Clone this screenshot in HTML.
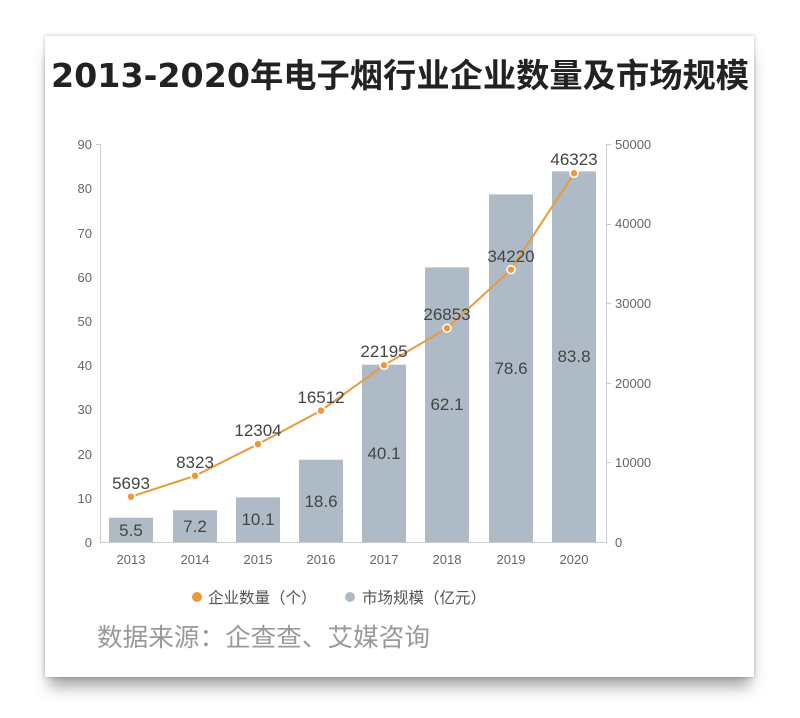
<!DOCTYPE html>
<html><head><meta charset="utf-8"><style>
body{margin:0;width:800px;height:718px;background:#fff;overflow:hidden;font-family:"Liberation Sans","Noto Sans CJK SC",sans-serif;}
.card{position:absolute;left:45px;top:36px;width:709px;height:641px;background:#fff;box-shadow:0 14px 14px -4px rgba(0,0,0,0.35),0 0 4px rgba(0,0,0,0.25);}
</style></head><body>
<div class="card"></div>
<svg width="800" height="718" style="position:absolute;left:0;top:0" font-family="Liberation Sans, Noto Sans CJK SC, sans-serif">
<text x="51" y="87" textLength="698" lengthAdjust="spacingAndGlyphs" font-size="33" font-weight="bold" fill="#222" font-family="DejaVu Sans, Noto Sans CJK SC, sans-serif">2013-2020年电子烟行业企业数量及市场规模</text>
<g stroke="#ccc" stroke-width="1">
<line x1="100.5" y1="144" x2="100.5" y2="542"/><line x1="606.5" y1="144" x2="606.5" y2="542"/>
<line x1="100" y1="542.5" x2="607" y2="542.5"/>
</g>
<g font-size="13" fill="#666" text-anchor="end">
<text x="92" y="547">0</text><text x="92" y="503">10</text><text x="92" y="459">20</text><text x="92" y="414">30</text><text x="92" y="370">40</text><text x="92" y="326">50</text><text x="92" y="282">60</text><text x="92" y="238">70</text><text x="92" y="193">80</text><text x="92" y="149">90</text>
</g>
<g font-size="13" fill="#666">
<text x="615" y="547">0</text><text x="615" y="467">10000</text><text x="615" y="388">20000</text><text x="615" y="308">30000</text><text x="615" y="228">40000</text><text x="615" y="149">50000</text>
</g>
<g stroke="#ccc"><line x1="96" y1="144.5" x2="100" y2="144.5"/><line x1="607" y1="144.5" x2="611" y2="144.5"/><line x1="607" y1="224.5" x2="611" y2="224.5"/><line x1="607" y1="303.5" x2="611" y2="303.5"/><line x1="607" y1="383.5" x2="611" y2="383.5"/><line x1="607" y1="462.5" x2="611" y2="462.5"/></g>
<g fill="#aebbc6">
<rect x="109" y="517.7" width="44" height="24.3"/>
<rect x="173" y="510.2" width="44" height="31.8"/>
<rect x="236" y="497.4" width="44" height="44.6"/>
<rect x="299" y="459.7" width="44" height="82.3"/>
<rect x="362" y="364.7" width="44" height="177.3"/>
<rect x="425" y="267.4" width="44" height="274.6"/>
<rect x="489" y="194.4" width="44" height="347.6"/>
<rect x="552" y="171.4" width="44" height="370.6"/>
</g>
<g font-size="17" fill="#444" text-anchor="middle">
<text x="131" y="536">5.5</text><text x="195" y="532">7.2</text><text x="258" y="525">10.1</text><text x="321" y="507">18.6</text><text x="384" y="459">40.1</text><text x="447" y="410">62.1</text><text x="511" y="374">78.6</text><text x="574" y="362">83.8</text>
</g>
<g font-size="13" fill="#666" text-anchor="middle">
<text x="131" y="564">2013</text><text x="195" y="564">2014</text><text x="258" y="564">2015</text><text x="321" y="564">2016</text><text x="384" y="564">2017</text><text x="447" y="564">2018</text><text x="511" y="564">2019</text><text x="574" y="564">2020</text>
</g>
<polyline fill="none" stroke="#e89a3c" stroke-width="2" points="131,496.7 195,475.8 258,444.1 321,410.6 384,365.3 447,328.2 511,269.6 574,173.3"/>
<g fill="#e89a3c" stroke="#fff" stroke-width="1.5">
<circle cx="131" cy="496.7" r="4"/><circle cx="195" cy="475.8" r="4"/><circle cx="258" cy="444.1" r="4"/><circle cx="321" cy="410.6" r="4"/><circle cx="384" cy="365.3" r="4"/><circle cx="447" cy="328.2" r="4"/><circle cx="511" cy="269.6" r="4"/><circle cx="574" cy="173.3" r="4"/>
</g>
<g font-size="17" fill="#444" text-anchor="middle">
<text x="131" y="489">5693</text><text x="195" y="468">8323</text><text x="258" y="436">12304</text><text x="321" y="403">16512</text><text x="384" y="357">22195</text><text x="447" y="320">26853</text><text x="511" y="262">34220</text><text x="574" y="165">46323</text>
</g>
<circle cx="197" cy="597" r="5" fill="#e89a3c"/>
<text x="208" y="603" font-size="15.5" fill="#555" font-family="Noto Sans CJK SC, sans-serif">企业数量（个）</text>
<circle cx="350" cy="597" r="5" fill="#aebbc6"/>
<text x="362" y="603" font-size="15.5" fill="#555" font-family="Noto Sans CJK SC, sans-serif">市场规模（亿元）</text>
<text x="97" y="646" textLength="333" lengthAdjust="spacingAndGlyphs" font-size="25" fill="#999" font-family="Noto Sans CJK SC, sans-serif">数据来源：企查查、艾媒咨询</text>
</svg>
</body></html>
